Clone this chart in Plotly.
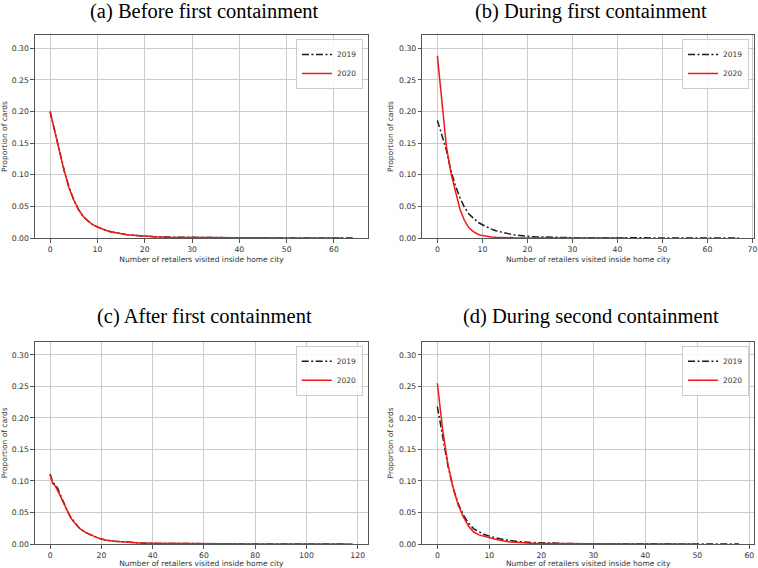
import plotly.graph_objects as go

# ---------------- data ----------------
# (a) Before first containment
a_x_2019 = [0, 1, 2, 3, 4, 5, 6, 7, 8, 9, 10, 11, 12, 13, 14, 15, 16, 17, 18, 19, 20, 22, 25, 30, 35, 40, 50, 60, 64]
a_y_2019 = [0.200, 0.167, 0.136, 0.106, 0.080, 0.060, 0.045, 0.034, 0.027, 0.021, 0.0175, 0.0142, 0.0116, 0.0096,
            0.0080, 0.0067, 0.0056, 0.0047, 0.0040, 0.0034, 0.0029, 0.0021, 0.0014, 0.0008, 0.0005, 0.0003, 0.00015,
            0.0001, 0.00005]
a_x_2020 = [0, 1, 2, 3, 4, 5, 6, 7, 8, 9, 10, 11, 12, 13, 14, 15, 16, 17, 18, 19, 20, 22, 25, 30, 35, 40, 50, 60, 62]
a_y_2020 = [0.199, 0.166, 0.135, 0.105, 0.079, 0.060, 0.045, 0.034, 0.027, 0.021, 0.0174, 0.0140, 0.0115, 0.0095,
            0.0079, 0.0066, 0.0055, 0.0046, 0.0039, 0.0033, 0.0028, 0.0020, 0.0013, 0.0007, 0.0004, 0.0003, 0.00015,
            0.0001, 0.00005]

# (b) During first containment
b_x_2019 = [0, 1, 2, 3, 4, 5, 6, 7, 8, 9, 10, 11, 12, 13, 14, 15, 16, 17, 18, 19, 20, 22, 25, 30, 35, 40, 50, 60, 67]
b_y_2019 = [0.186, 0.163, 0.139, 0.107, 0.083, 0.064, 0.049, 0.038, 0.031, 0.025, 0.021, 0.017, 0.014, 0.0115,
            0.0095, 0.0080, 0.0065, 0.0052, 0.0042, 0.0033, 0.0026, 0.0017, 0.0010, 0.0005, 0.0003, 0.0002, 0.0001,
            0.00005, 0.00002]
b_x_2020 = [0, 1, 2, 3, 4, 5, 6, 7, 8, 9, 10, 11, 12, 13, 14, 15, 17, 20, 25, 30, 42]
b_y_2020 = [0.288, 0.213, 0.145, 0.103, 0.072, 0.046, 0.028, 0.016, 0.010, 0.006, 0.0038, 0.0025, 0.0017, 0.0012,
            0.0008, 0.0006, 0.0003, 0.00015, 0.00008, 0.00004, 0.00002]

# (c) After first containment
c_x_2019 = [0, 1, 2, 3, 4, 5, 6, 7, 8, 9, 10, 11, 12, 13, 14, 15, 16, 17, 18, 19, 20, 22, 25, 30, 35, 40, 50, 60, 80,
            100, 115]
c_y_2019 = [0.111, 0.098, 0.094, 0.088, 0.078, 0.068, 0.059, 0.050, 0.043, 0.037, 0.031, 0.027, 0.023, 0.020, 0.018,
            0.016, 0.014, 0.012, 0.0105, 0.0092, 0.0081, 0.0061, 0.0044, 0.0026, 0.0016, 0.0010, 0.0005, 0.0003,
            0.0001, 0.00005, 0.00002]
c_x_2020 = [0, 1, 2, 3, 4, 5, 6, 7, 8, 9, 10, 11, 12, 13, 14, 15, 16, 17, 18, 19, 20, 22, 25, 30, 35, 40, 50, 60, 80,
            100, 118]
c_y_2020 = [0.110, 0.096, 0.092, 0.085, 0.076, 0.067, 0.058, 0.049, 0.042, 0.036, 0.031, 0.027, 0.023, 0.020, 0.018,
            0.016, 0.014, 0.012, 0.0105, 0.0090, 0.0080, 0.0060, 0.0043, 0.0025, 0.0015, 0.0010, 0.0005, 0.0003,
            0.0001, 0.00005, 0.00002]

# (d) During second containment
d_x_2019 = [0, 1, 2, 3, 4, 5, 6, 7, 8, 9, 10, 11, 12, 13, 14, 15, 16, 18, 20, 25, 30, 40, 50, 58]
d_y_2019 = [0.218, 0.172, 0.125, 0.090, 0.064, 0.046, 0.033, 0.024, 0.019, 0.015, 0.0125, 0.0100, 0.0082, 0.0066,
            0.0053, 0.0043, 0.0035, 0.0024, 0.0016, 0.0007, 0.0004, 0.0002, 0.0001, 0.00005]
d_x_2020 = [0, 1, 2, 3, 4, 5, 6, 7, 8, 9, 10, 11, 12, 13, 14, 15, 16, 18, 20, 25, 30, 40, 50]
d_y_2020 = [0.255, 0.182, 0.128, 0.090, 0.062, 0.043, 0.028, 0.019, 0.0145, 0.0120, 0.0100, 0.0078, 0.0058, 0.0043,
            0.0033, 0.0026, 0.0020, 0.0013, 0.0009, 0.0004, 0.0002, 0.0001, 0.00005]

panel_titles = ["(a) Before first containment", "(b) During first containment",
                "(c) After first containment", "(d) During second containment"]
series_names = ["2019", "2020"]
x_label = "Number of retailers visited inside home city"
y_label = "Proportion of cards"
y_ticks = [0.00, 0.05, 0.10, 0.15, 0.20, 0.25, 0.30]

panels = [
    (a_x_2019, a_y_2019, a_x_2020, a_y_2020),
    (b_x_2019, b_y_2019, b_x_2020, b_y_2020),
    (c_x_2019, c_y_2019, c_x_2020, c_y_2020),
    (d_x_2019, d_y_2019, d_x_2020, d_y_2020),
]
x_ranges = [[-3.2, 67.2], [-3.35, 70.35], [-5.9, 123.9], [-2.9, 60.9]]
x_dticks = [10, 10, 20, 10]

# ---------------- layout geometry (pixels) ----------------
W, H = 758, 568
px_boxes = [  # left, right, top, bottom
    (35, 368, 35, 238),
    (422.3, 754, 35, 238),
    (35, 367.7, 341.7, 544),
    (422.3, 754, 341.7, 544),
]
title_pos = [(204.5, 11), (591.3, 11), (204.7, 316), (591.3, 316)]

fig = go.Figure()

BLACK = "#1a1a1a"
RED = "#f01818"
TICK_FONT = dict(family="DejaVu Sans", size=7.7, color="#333333")
LABEL_FONT = dict(family="DejaVu Sans", size=7.5, color="#333333")

for i, (x19, y19, x20, y20) in enumerate(panels):
    n = "" if i == 0 else str(i + 1)
    leg = "legend" if i == 0 else f"legend{i + 1}"
    fig.add_trace(go.Scatter(x=x19, y=y19, mode="lines", name=series_names[0],
                             line=dict(color=BLACK, width=1.5, dash="7px,2.5px,2px,2.5px"),
                             xaxis="x" + n, yaxis="y" + n, legend=leg))
    fig.add_trace(go.Scatter(x=x20, y=y20, mode="lines", name=series_names[1],
                             line=dict(color=RED, width=1.5),
                             xaxis="x" + n, yaxis="y" + n, legend=leg))

    l, r, t, b = px_boxes[i]
    axis_common = dict(showline=True, mirror=True, linecolor="#555555", linewidth=1.1,
                       showgrid=True, gridcolor="#cccccc", gridwidth=1, zeroline=False,
                       ticks="outside", ticklen=3.5, tickwidth=1, tickcolor="#555555",
                       tickfont=TICK_FONT, automargin=False)
    fig.layout["xaxis" + n] = dict(
        domain=[l / W, r / W], anchor="y" + n, range=x_ranges[i], dtick=x_dticks[i], tick0=0,
        title=dict(text=x_label, font=LABEL_FONT, standoff=3), **axis_common)
    fig.layout["yaxis" + n] = dict(
        domain=[1 - b / H, 1 - t / H], anchor="x" + n, range=[0, 0.321], tickvals=y_ticks,
        tickformat=".2f", title=dict(text=y_label, font=LABEL_FONT, standoff=4), **axis_common)

    fig.layout[leg] = dict(
        x=(r - 5) / W, y=1 - (t + 4) / H, xanchor="right", yanchor="top",
        bgcolor="rgba(255,255,255,0.85)", bordercolor="#cccccc", borderwidth=1,
        font=dict(family="DejaVu Sans", size=7.5, color="#333333"), itemwidth=30,
        tracegroupgap=0)

    tx, ty = title_pos[i]
    fig.add_annotation(text=panel_titles[i], x=tx / W, y=1 - ty / H, xref="paper", yref="paper",
                       xanchor="center", yanchor="middle", showarrow=False,
                       font=dict(family="Liberation Serif", size=20.5, color="#000000"))

fig.update_layout(width=W, height=H, margin=dict(l=0, r=0, t=0, b=0),
                  paper_bgcolor="white", plot_bgcolor="white", showlegend=True)

fig.write_html("out.html", config={"displayModeBar": False},
               post_script="document.body.style.margin='0px';document.body.style.padding='0px';")
